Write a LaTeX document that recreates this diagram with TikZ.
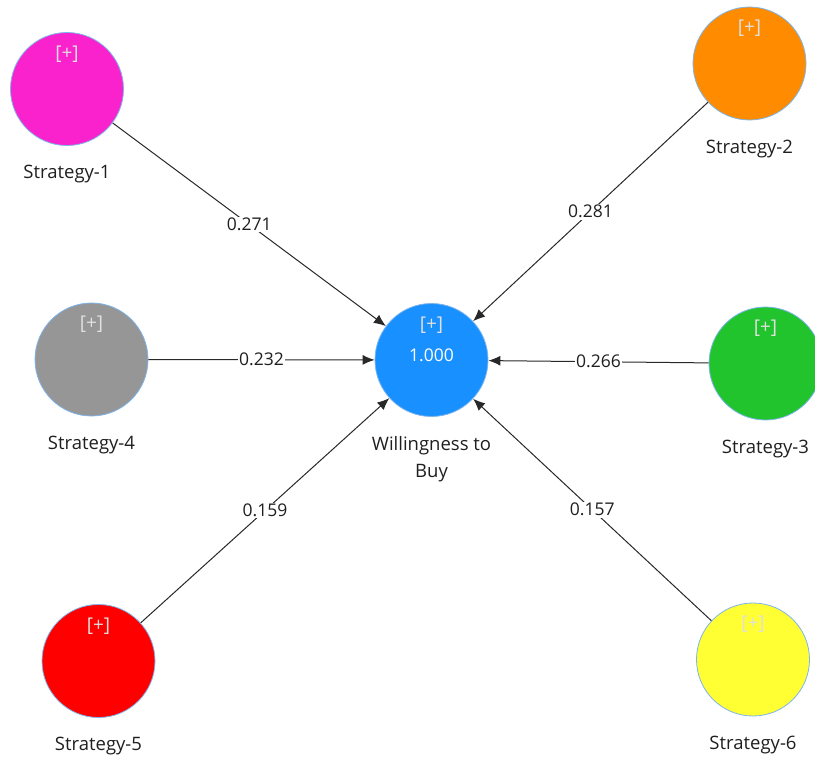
\documentclass[tikz,border=0pt]{standalone}
\usepackage{fontspec}
\setmainfont{Open Sans}
\usetikzlibrary{arrows.meta}
\definecolor{cMag}{RGB}{250,34,204}
\definecolor{cOra}{RGB}{255,140,0}
\definecolor{cGry}{RGB}{150,150,150}
\definecolor{cBlu}{RGB}{24,144,255}
\definecolor{cGrn}{RGB}{34,196,46}
\definecolor{cRed}{RGB}{255,0,0}
\definecolor{cYel}{RGB}{255,255,51}
\definecolor{cRim}{RGB}{125,180,235}
\definecolor{cLine}{RGB}{40,40,40}
\tikzset{
  lv/.style={circle, draw=cRim, line width=0.8pt, minimum size=113pt, inner sep=0pt},
  plusmark/.style={text=white!88!black, font=\fontsize{19}{22}\selectfont},
  lvcaption/.style={text=black!88, font=\fontsize{18.5}{27}\selectfont, align=center},
  pathline/.style={draw=cLine, line width=1pt, -{Latex[length=12pt,width=10pt]}},
  coef/.style={fill=white, inner sep=1.5pt, text=black!88, font=\fontsize{17.5}{20}\selectfont}
}
\begin{document}
\begin{tikzpicture}[x=1pt,y=-1pt]
\useasboundingbox (0,0) rectangle (815,757);
% latent variables
\node[lv, fill=cMag] (s1) at (67,89) {};
\node[lv, fill=cOra] (s2) at (749.5,63.5) {};
\node[lv, fill=cGry] (s4) at (91.5,359.5) {};
\node[lv, fill=cBlu] (w)  at (431.5,360) {};
\node[lv, fill=cGrn] (s3) at (765.5,363.5) {};
\node[lv, fill=cRed] (s5) at (98.5,661) {};
\node[lv, fill=cYel] (s6) at (753,659.5) {};
% [+] markers
\foreach \n in {s1,s2,s3,s4,s5,s6,w}{
  \node[plusmark] (p-\n) at ([yshift=35pt]\n.center) {[+]};
}
\node[text=white, font=\fontsize{17.5}{20}\selectfont] (wval) at ([yshift=5pt]w.center) {1.000};
% captions
\node[lvcaption] (c1) at ([yshift=-85.5pt]s1.center) {Strategy-1};
\node[lvcaption] (c2) at ([yshift=-85.5pt]s2.center) {Strategy-2};
\node[lvcaption] (c3) at ([yshift=-85.5pt]s3.center) {Strategy-3};
\node[lvcaption] (c4) at ([yshift=-85.5pt]s4.center) {Strategy-4};
\node[lvcaption] (c5) at ([yshift=-85.5pt]s5.center) {Strategy-5};
\node[lvcaption] (c6) at ([yshift=-85.5pt]s6.center) {Strategy-6};
\node[lvcaption] (cw) at ([yshift=-99pt]w.center) {Willingness to\\Buy};
% path coefficients
\draw[pathline] (s1) -- node[coef] {0.271} (w);
\draw[pathline] (s2) -- node[coef] {0.281} (w);
\draw[pathline] (s4) -- node[coef] {0.232} (w);
\draw[pathline] (s3) -- node[coef] {0.266} (w);
\draw[pathline] (s5) -- node[coef] {0.159} (w);
\draw[pathline] (s6) -- node[coef] {0.157} (w);
\end{tikzpicture}
\end{document}
